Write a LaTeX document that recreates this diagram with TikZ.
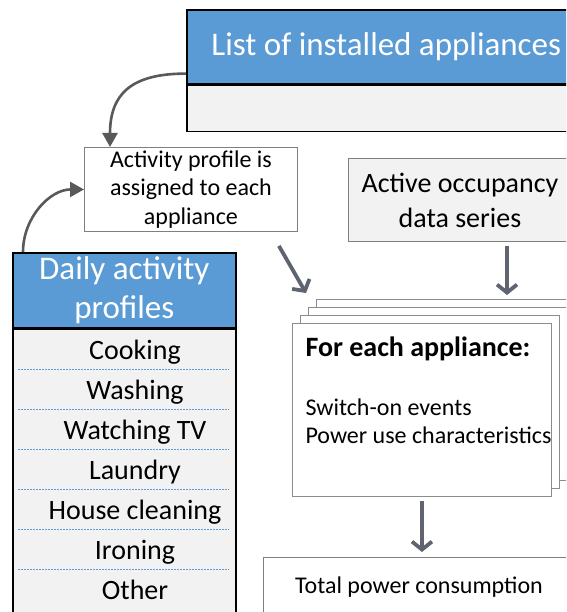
\documentclass[tikz,border=0pt]{standalone}
\usepackage{fontspec}
\setmainfont{Carlito}
\usetikzlibrary{arrows.meta,positioning,calc}
\definecolor{hdrblue}{HTML}{5B9BD5}
\definecolor{panel}{HTML}{F2F2F2}
\definecolor{edge}{HTML}{7F7F7F}
\definecolor{pageedge}{HTML}{8C8C8C}
\definecolor{curvegray}{HTML}{595959}
\definecolor{slate}{HTML}{5E6470}
\definecolor{dotblue}{HTML}{5B9BD5}

\begin{document}
\begin{tikzpicture}[x=1pt,y=-1pt,
  hdr/.style={draw=black, line width=1.6pt, fill=hdrblue, text=white, inner sep=0pt, anchor=north west, align=center, font=\fontsize{33}{39}\selectfont},
  tray/.style={draw=black, line width=1.6pt, fill=panel, inner sep=0pt, anchor=north west},
  whitebox/.style={draw=edge, line width=0.9pt, fill=white, inner sep=0pt, anchor=north west},
  item/.style={anchor=base, font=\fontsize{28}{33}\selectfont},
  bendarrow/.style={draw=curvegray, line width=2.6pt, -{Triangle[length=14pt,width=15pt]}},
  flow/.style={draw=slate, line width=3.8pt, -{Straight Barb[length=8pt,width=20pt]}},
  rowline/.style={draw=dotblue, line width=0.9pt, dash pattern=on 1.6pt off 1.4pt}]
        \useasboundingbox (0,0) rectangle (566,612);
        \clip (0,0) rectangle (566,612);

        % appliance list
        \node[hdr, minimum width=399pt, minimum height=74pt] (listhead) at (186,9) {List of installed appliances};
        \node[tray, minimum width=399pt, minimum height=46pt, below=0pt of listhead] (listbody) {};

        \node[whitebox, minimum width=213pt, minimum height=84pt, align=center, font=\fontsize{24}{28.5}\selectfont] (assign) at (84,147) {Activity profile is\\assigned to each\\appliance};

        \node[whitebox, fill=panel, minimum width=223pt, minimum height=83pt, align=center, font=\fontsize{28}{35}\selectfont] (occ) at (348,158) {Active occupancy\\data series};

        % daily profiles
        \node[hdr, minimum width=223pt, minimum height=75pt] (dailyhead) at (12,252) {Daily activity\\profiles};
        \node[tray, minimum width=223pt, minimum height=300pt, below=0pt of dailyhead] (dailybody) {};
        \foreach \act [count=\i] in {Cooking, Washing, Watching TV, Laundry, House cleaning, Ironing, Other}
            \node[item] (row\i) at (135,{359+40*(\i-1)}) {\act};
        \foreach \i in {1,...,6}
            \draw[rowline] (18,{369+40*(\i-1)}) -- (229,{369+40*(\i-1)});

        % stack of appliances
        \foreach \k in {3,2,1}
            \node[whitebox, draw=pageedge, minimum width=259pt, minimum height=173pt] (page\k) at ({292+8*\k},{323-8*\k}) {};
        \node[whitebox, draw=pageedge, minimum width=259pt, minimum height=173pt] (front) at (292,323) {};
        \node[anchor=base west, font=\fontsize{28}{33}\selectfont\bfseries] (forhead) at (302,356) {For each appliance:};
        \node[anchor=base west, font=\fontsize{24}{28}\selectfont] (switchon) at (302,415) {Switch-on events};
        \node[anchor=base west, font=\fontsize{24}{28}\selectfont] (poweruse) at (302,443) {Power use characteristics};

        \node[whitebox, minimum width=311pt, minimum height=60pt, font=\fontsize{24}{28}\selectfont] (total) at (263,557) {Total power consumption};

        % connectors
        \coordinate (stacktip) at (306,293);
        \coordinate (occtip) at (507,295);
        \draw[bendarrow] ([yshift=11pt]listhead.south west) to[out=180,in=90,looseness=1.3] ([xshift=26pt]assign.north west);
        \draw[bendarrow] ([xshift=11pt]dailyhead.north west) to[out=90,in=180] (assign.west);
        \draw[flow] ([xshift=-19pt,yshift=-14pt]assign.south east) -- (stacktip);
        \draw[flow] ($(occ.south -| occtip)+(0,4)$) -- (occtip);
        \draw[flow] ([yshift=-4pt]front.south) -- ($(front.south |- total.north)+(0,-5)$);
\end{tikzpicture}
\end{document}
